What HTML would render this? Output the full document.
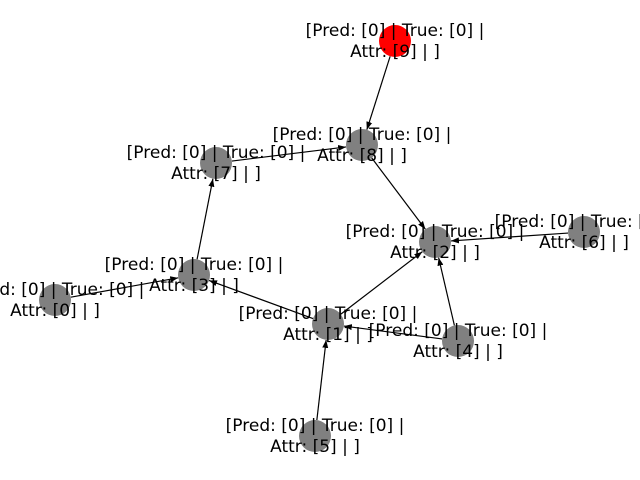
<!DOCTYPE html>
<html><head><meta charset="utf-8"><style>
html,body{margin:0;padding:0;background:#fff;}
svg{display:block;}
text{font-family:"DejaVu Sans","Liberation Sans",sans-serif;font-size:17px;fill:#000;}
</style></head><body>
<svg id="chart" width="640" height="480" viewBox="0 0 640 480">
<defs><marker id="arr" markerWidth="8" markerHeight="8" refX="8" refY="4" orient="auto" markerUnits="userSpaceOnUse"><path d="M0,1 L8,4 L0,7 z" fill="#000"/></marker></defs>
<g id="edges"></g><g id="nodes"></g><g id="labels"></g>
</svg>
<script>
const nodeIds=[0,1,2,3,4,5,6,7,8,9];
const nodeX=[55,328,435,194,458,315,584,216,362,395];
const nodeY=[300,324,242,275,341,436,232,163,145,41];
const nodeColors=['#808080','#808080','#808080','#808080','#808080','#808080','#808080','#808080','#808080','#ff0000'];
const edgeFrom=[9,7,8,6,3,0,1,1,4,4,5];
const edgeTo=[8,8,2,2,7,3,3,2,2,1,1];
const NS='http://www.w3.org/2000/svg';
const R=16;
const eg=document.getElementById('edges'),ng=document.getElementById('nodes'),lg=document.getElementById('labels');
for(let i=0;i<edgeFrom.length;i++){
  const a=edgeFrom[i],b=edgeTo[i];
  const x1=nodeX[a],y1=nodeY[a],x2=nodeX[b],y2=nodeY[b];
  const d=Math.hypot(x2-x1,y2-y1);
  const ux=(x2-x1)/d,uy=(y2-y1)/d;
  const l=document.createElementNS(NS,'line');
  
  
  l.setAttribute('x1',x1+ux*R);l.setAttribute('y1',y1+uy*R);
  l.setAttribute('x2',x2-ux*R);l.setAttribute('y2',y2-uy*R);
  l.setAttribute('stroke','#000');l.setAttribute('stroke-width','1.2');
  l.setAttribute('marker-end','url(#arr)');
  eg.appendChild(l);
}
for(let i=0;i<nodeIds.length;i++){
  const c=document.createElementNS(NS,'circle');
  
  
  c.setAttribute('cx',nodeX[i]);c.setAttribute('cy',nodeY[i]);c.setAttribute('r',R);
  c.setAttribute('fill',nodeColors[i]);
  ng.appendChild(c);
  const t=document.createElementNS(NS,'text');
  
  
  t.setAttribute('text-anchor','middle');
  t.setAttribute('x',nodeX[i]);t.setAttribute('y',nodeY[i]-5);
  t.textContent='[Pred: [0] | True: [0] |';
  lg.appendChild(t);
  const t2=document.createElementNS(NS,'text');
  
  
  t2.setAttribute('text-anchor','middle');
  t2.setAttribute('x',nodeX[i]);t2.setAttribute('y',nodeY[i]+16);
  t2.textContent='Attr: ['+nodeIds[i]+'] | ]';
  lg.appendChild(t2);
}
</script>
</body></html>
